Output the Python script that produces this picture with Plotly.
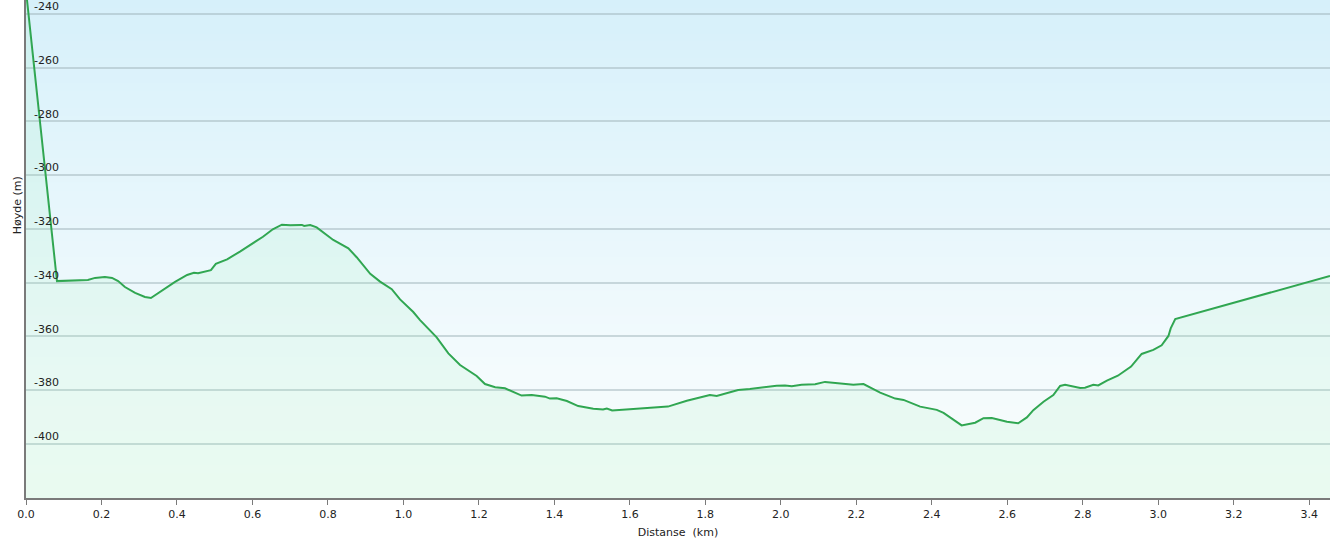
import plotly.graph_objects as go

# Distance (km) and elevation (m)
distance_km = [0.0, 0.082, 0.164, 0.183, 0.209, 0.228, 0.244, 0.262, 0.289, 0.315,
               0.331, 0.355, 0.395, 0.427, 0.445, 0.456, 0.490, 0.503, 0.533, 0.567,
               0.607, 0.628, 0.654, 0.678, 0.700, 0.731, 0.737, 0.753, 0.770, 0.788,
               0.814, 0.854, 0.876, 0.912, 0.938, 0.969, 0.991, 1.026, 1.044, 1.088,
               1.119, 1.150, 1.172, 1.194, 1.216, 1.243, 1.269, 1.296, 1.313, 1.340,
               1.375, 1.388, 1.406, 1.433, 1.463, 1.503, 1.529, 1.539, 1.553, 1.600,
               1.645, 1.701, 1.751, 1.786, 1.812, 1.830, 1.857, 1.887, 1.918, 1.945,
               1.989, 2.011, 2.029, 2.055, 2.091, 2.117, 2.148, 2.192, 2.219, 2.263,
               2.303, 2.325, 2.369, 2.413, 2.431, 2.479, 2.515, 2.537, 2.559, 2.599,
               2.629, 2.652, 2.669, 2.696, 2.722, 2.740, 2.753, 2.793, 2.806, 2.828,
               2.841, 2.864, 2.893, 2.928, 2.956, 2.987, 3.009, 3.027, 3.033, 3.045,
               3.455]
elevation_m = [-231.4, -339.4, -339.0, -338.2, -337.9, -338.2, -339.4, -341.6, -343.8, -345.3,
               -345.7, -343.4, -339.7, -337.1, -336.3, -336.5, -335.3, -333.0, -331.3, -328.4,
               -324.7, -322.9, -320.1, -318.4, -318.6, -318.5, -318.9, -318.5, -319.4, -321.2,
               -324.1, -327.2, -330.5, -336.7, -339.6, -342.4, -346.2, -350.9, -353.9, -360.3,
               -366.3, -370.6, -372.7, -374.7, -377.7, -378.9, -379.3, -380.9, -382.0, -381.8,
               -382.4, -383.1, -383.0, -384.0, -385.9, -386.9, -387.2, -386.8, -387.5, -387.1,
               -386.7, -386.1, -383.9, -382.6, -381.8, -382.1, -381.1, -379.9, -379.5, -379.0,
               -378.3, -378.2, -378.5, -378.0, -377.8, -376.9, -377.4, -378.0, -377.7, -380.9,
               -383.1, -383.6, -386.1, -387.3, -388.4, -393.1, -392.1, -390.4, -390.3, -391.7,
               -392.3, -390.1, -387.4, -384.3, -381.8, -378.4, -378.0, -379.2, -379.1, -378.0,
               -378.2, -376.4, -374.6, -371.2, -366.5, -365.0, -363.3, -359.8, -357.0, -353.5,
               -337.5]

x_ticks = [0.0, 0.2, 0.4, 0.6, 0.8, 1.0, 1.2, 1.4, 1.6, 1.8, 2.0, 2.2, 2.4, 2.6, 2.8, 3.0, 3.2, 3.4]
y_ticks = [-240, -260, -280, -300, -320, -340, -360, -380, -400]

X_RANGE = [0, 3.455]
Y_RANGE = [-420.1, -234.8]
FONT = "DejaVu Sans"
TXT = "#222"
AXC = "#7a7a7a"

fig = go.Figure()
# Fill under the line down to the axis bottom (on an overlaid y axis with the same range)
fig.add_trace(go.Scatter(
    x=distance_km + [distance_km[-1], distance_km[0]],
    y=elevation_m + [Y_RANGE[0], Y_RANGE[0]],
    mode="none", fill="toself", fillcolor="rgba(150,238,180,0.13)",
    hoverinfo="skip", showlegend=False, yaxis="y2",
))
fig.add_trace(go.Scatter(
    x=distance_km, y=elevation_m, mode="lines",
    line=dict(color="#2ba24c", width=2),
    hoverinfo="skip", showlegend=False,
))

# vertical background gradient (blue at top to near white)
def lerp(c1, c2, t):
    return tuple(round(a + (b - a) * t) for a, b in zip(c1, c2))

top = (214, 240, 250)
mid = (244, 251, 253)
bot = (246, 252, 250)
shapes = []
n = 60
for i in range(n):
    y0 = i / n
    y1 = (i + 1) / n
    yc = (y0 + y1) / 2  # 0 bottom, 1 top
    if yc > 0.25:
        c = lerp(mid, top, (yc - 0.25) / 0.75)
    else:
        c = lerp(bot, mid, yc / 0.25)
    shapes.append(dict(type="rect", xref="paper", yref="paper", x0=0, x1=1,
                       y0=y0, y1=y1 + 0.002, line=dict(width=0),
                       fillcolor="rgb(%d,%d,%d)" % c, layer="below"))

fig.update_layout(
    width=1330, height=545,
    margin=dict(l=26, r=0, t=0, b=47),
    paper_bgcolor="white",
    plot_bgcolor="rgba(0,0,0,0)",
    font=dict(family=FONT, size=11, color=TXT),
    shapes=shapes,
    xaxis=dict(
        range=X_RANGE, tickmode="array", tickvals=x_ticks,
        ticktext=["%.1f" % v for v in x_ticks],
        showgrid=False, zeroline=False,
        showline=True, linecolor=AXC, linewidth=2,
        ticks="outside", ticklen=5, tickcolor=AXC, tickwidth=1,
        tickfont=dict(family=FONT, size=11, color=TXT),
        title=dict(text="Distanse\u00a0 (km)", font=dict(family=FONT, size=11, color=TXT), standoff=8),
    ),
    yaxis=dict(
        range=Y_RANGE, tickmode="array", tickvals=y_ticks,
        showticklabels=False,
        showgrid=True, gridcolor="rgba(160,180,186,0.5)", gridwidth=2,
        zeroline=False,
        showline=True, linecolor=AXC, linewidth=2,
        ticks="",
    ),
    # tick labels drawn just right of the left axis line, above each gridline
    yaxis2=dict(
        overlaying="y", anchor="free", position=0, side="right",
        range=Y_RANGE, tickmode="array", tickvals=y_ticks,
        ticktext=[str(v) for v in y_ticks],
        showgrid=False, zeroline=False, showline=False, ticks="",
        ticklabelposition="outside top", ticklabelstandoff=7,
        tickfont=dict(family=FONT, size=11, color=TXT),
    ),
    annotations=[dict(
        text="Høyde (m)", xref="paper", yref="paper",
        x=-0.0069, y=0.588, xanchor="center", yanchor="middle",
        textangle=-90, showarrow=False,
        font=dict(family=FONT, size=11, color=TXT),
    )],
)

fig.write_html(
    "out.html",
    config={"displayModeBar": False},
    post_script="document.body.style.margin='0';document.body.style.overflow='hidden';",
)
